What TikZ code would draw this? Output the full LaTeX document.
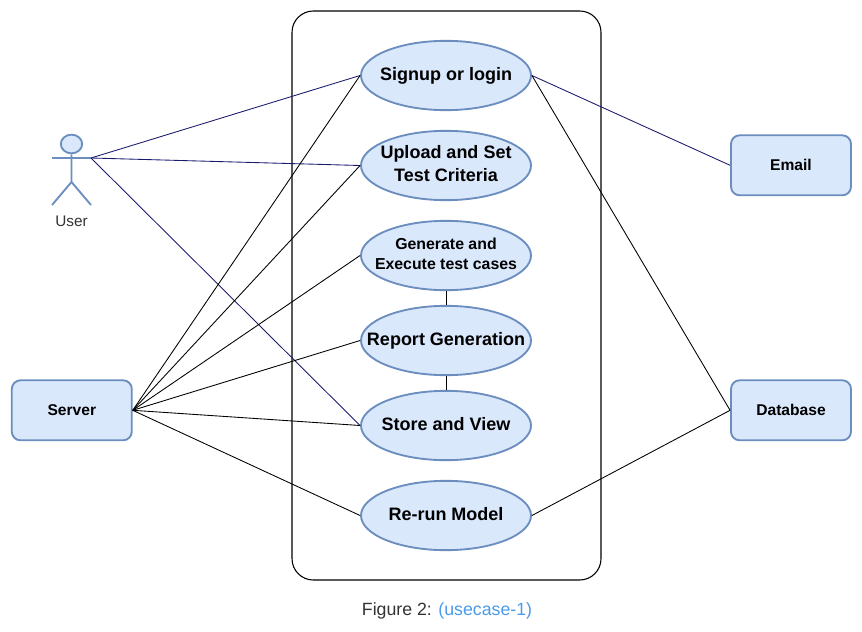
\documentclass[tikz,border=0pt]{standalone}
\usepackage{fontspec}
\setmainfont{Liberation Sans}
\usetikzlibrary{shapes.geometric}
\definecolor{ucfill}{HTML}{DAE8FC}
\definecolor{ucline}{HTML}{6C8EBF}
\definecolor{navyline}{HTML}{1A1A6E}
\definecolor{capblue}{HTML}{4A9BEA}
\definecolor{capgray}{HTML}{333333}
\newcommand{\uctext}[1]{\makebox[0pt][c]{\raisebox{-0.9pt}{\begin{tabular}{@{}c@{}}#1\end{tabular}}}}
\tikzset{
  usecase/.style={ellipse,draw=ucline,fill=ucfill,line width=1.4pt,minimum width=127.5pt,minimum height=52pt,inner sep=0pt,font=\bfseries\fontsize{13.5}{17}\selectfont,text=black},
  usecasesmall/.style={usecase,font=\bfseries\fontsize{11.9}{15}\selectfont},
  sysbox/.style={draw=ucline,fill=ucfill,line width=1.4pt,rounded corners=6.5pt,minimum width=90pt,minimum height=45pt,inner sep=0pt,font=\bfseries\fontsize{11.7}{14}\selectfont},
  frontier/.style={draw=black,line width=0.8pt,rounded corners=16pt},
  actorline/.style={draw=ucline,line width=1.4pt},
  nlink/.style={draw=navyline,line width=0.65pt},
  blink/.style={draw=black,line width=0.65pt}
}
\begin{document}
\begin{tikzpicture}[x=0.75pt,y=-0.75pt]
\useasboundingbox (0,0) rectangle (862,631);
\draw[frontier] (292,11) rectangle (601,580);
\node[usecase] (signup) at (446,75.5) {\uctext{Signup or login}};
\node[usecase] (upload) at (446,165.5) {\uctext{Upload and Set\\Test Criteria}};
\node[usecasesmall] (generate) at (446,255.5) {\uctext{Generate and\\Execute test cases}};
\node[usecase] (report) at (446,340.5) {\uctext{Report Generation}};
\node[usecase] (store) at (446,425.5) {\uctext{Store and View}};
\node[usecase] (rerun) at (446,515.5) {\uctext{Re-run Model}};
\node[sysbox] (email) at (791,165.3) {Email};
\node[sysbox] (server) at (71.8,410.3) {Server};
\node[sysbox] (database) at (791,410.3) {Database};
% actor
\node[ellipse,draw=ucline,fill=ucfill,line width=1.4pt,minimum width=16pt,minimum height=14pt,inner sep=0pt] (head) at (71.5,144) {};
\coordinate (handl) at (52,158);
\coordinate (handr) at (91,158);
\coordinate (hip) at (71.5,182);
\coordinate (footl) at (52,205);
\coordinate (footr) at (91,205);
\draw[actorline] (head.south) -- (hip) (handl) -- (handr) (footl) -- (hip) -- (footr);
\node[text=capgray,font=\fontsize{11.5}{14}\selectfont] (userlabel) at (71.5,221) {User};
% connectors
\draw[nlink] (handr) -- (signup.west);
\draw[nlink] (handr) -- (upload.west);
\draw[nlink] (handr) -- (store.west);
\draw[blink] (server.east) -- (signup.west);
\draw[blink] (server.east) -- (upload.west);
\draw[blink] (server.east) -- (generate.west);
\draw[blink] (server.east) -- (report.west);
\draw[blink] (server.east) -- (store.west);
\draw[blink] (server.east) -- (rerun.west);
\draw[blink] (generate.south) -- (report.north);
\draw[blink] (report.south) -- (store.north);
\draw[nlink] (signup.east) -- (email.west);
\draw[blink] (signup.east) -- (database.west);
\draw[blink] (rerun.east) -- (database.west);
\node[font=\fontsize{13.3}{16}\selectfont,text=capgray] (caption) at (447,611) {Figure 2: \textcolor{capblue}{(usecase-1)}};
\end{tikzpicture}
\end{document}
